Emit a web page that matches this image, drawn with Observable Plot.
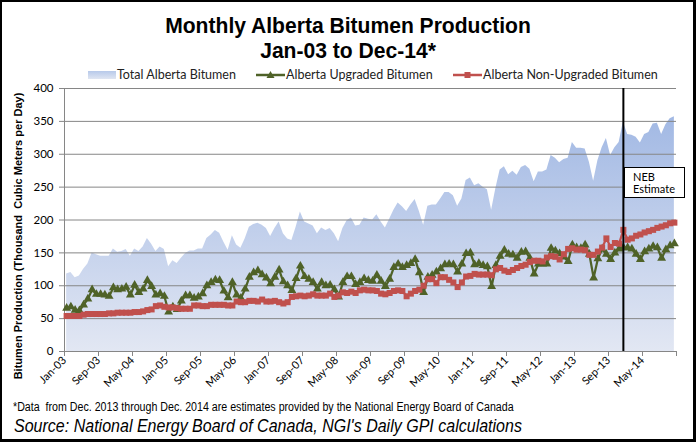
<!DOCTYPE html>
<html><head><meta charset="utf-8">
<script src="https://cdn.jsdelivr.net/npm/d3@7"></script>
<script src="https://cdn.jsdelivr.net/npm/@observablehq/plot@0.6"></script>
<style>
body{margin:0;background:#fff;}
#wrap{position:relative;width:696px;height:442px;overflow:hidden;background:#fff;font-family:Lato,"Open Sans",sans-serif;}
#frame{position:absolute;left:0;top:0;width:696px;height:442px;box-sizing:border-box;border:2px solid #000;border-right-width:3px;border-bottom-width:3px;pointer-events:none;z-index:10}
.title{position:absolute;left:0;width:696px;text-align:center;font-family:"Liberation Sans",Arial,sans-serif;font-weight:bold;font-size:21.5px;line-height:25px;color:#000;transform:scaleX(0.98);transform-origin:center;}
.leg{position:absolute;top:67px;height:16px;font-size:12.5px;line-height:16px;color:#222;white-space:nowrap;}
.leg svg{position:absolute;left:0;top:0;}
#chart{position:absolute;left:0;top:82px;}
#ytitle{position:absolute;width:320px;left:-142px;top:229px;height:14px;line-height:14px;text-align:center;transform:rotate(-90deg);font-family:"Liberation Sans","DejaVu Sans",sans-serif;font-weight:bold;font-size:11px;color:#000;white-space:nowrap;}
#neb{position:absolute;left:624px;top:167px;width:61px;height:31px;box-sizing:border-box;border:1.5px solid #000;background:#fff;color:#000;z-index:5;font-size:11px;}
#neb div{position:absolute;left:8px;height:11px;line-height:11px;white-space:nowrap;}
.narrow{position:absolute;font-family:"Liberation Sans",Arial,sans-serif;color:#000;white-space:nowrap;transform-origin:left center;}
#foot{left:13px;top:400px;font-size:12px;transform:scaleX(0.887);}
#src{left:14px;top:416px;font-style:italic;font-size:18px;transform:scaleX(0.89);}
</style>
</head><body>
<div id="wrap">
  <div class="title" style="top:14px">Monthly Alberta Bitumen Production<br>Jan-03 to Dec-14*</div>
  <div class="leg" style="left:88px;"><svg width="30" height="16"><defs><linearGradient id="lg1" x1="0" y1="0" x2="0" y2="1"><stop offset="0" stop-color="#b7c9ea"/><stop offset="1" stop-color="#dfe5f2"/></linearGradient></defs><rect x="0" y="4" width="28" height="8" fill="url(#lg1)"/></svg><span style="margin-left:29px">Total Alberta Bitumen</span></div>
  <div class="leg" style="left:256px;"><svg width="30" height="16"><line x1="0" y1="8" x2="29" y2="8" stroke="#4f6228" stroke-width="2.5"/><path d="M14.5,4 L18.5,11 L10.5,11 Z" fill="#4f6228"/></svg><span style="margin-left:30px">Alberta Upgraded Bitumen</span></div>
  <div class="leg" style="left:453px;"><svg width="30" height="16"><line x1="0" y1="8" x2="29" y2="8" stroke="#c0504d" stroke-width="2.5"/><rect x="11.5" y="5" width="6" height="6" fill="#c0504d"/></svg><span style="margin-left:30px">Alberta Non-Upgraded Bitumen</span></div>
  <div id="chart"></div>
  <div id="ytitle">Bitumen Production (Thousand&nbsp; Cubic Meters per Day)</div>
  <div id="neb"><div style="top:3px">NEB</div><div style="top:15px">Estimate</div></div>
  <div id="foot" class="narrow">*Data&nbsp; from Dec. 2013 through Dec. 2014 are estimates provided by the National Energy Board of Canada</div>
  <div id="src" class="narrow">Source: National Energy Board of Canada, NGI's Daily GPI calculations</div>
  <div id="frame"></div>
</div>
<script>
// Monthly categories Jan-03 .. Dec-14
const monthNames = ["Jan","Feb","Mar","Apr","May","Jun","Jul","Aug","Sep","Oct","Nov","Dec"];
const months = [];
for (let yr = 3; yr <= 14; yr++) for (const m of monthNames) months.push(m + "-" + String(yr).padStart(2, "0"));

// Total Alberta Bitumen (thousand m3/d)
const total = [
118,120,112,115,125,133,150,147,145,145,145,156,
151,152,155,145,156,152,159,172,163,152,159,155,
129,138,134,142,149,153,153,156,156,172,177,184,
180,166,154,176,162,157,171,189,193,195,192,187,
175,187,197,179,171,169,189,212,197,194,191,179,
188,184,187,179,167,187,199,203,191,192,203,201,
200,208,197,188,201,215,226,220,213,223,231,213,
192,221,223,223,232,242,242,237,221,232,260,264,
252,255,250,246,215,248,276,281,269,274,268,280,
283,277,258,273,273,276,298,294,287,292,294,318,
309,309,308,288,259,290,310,324,298,310,318,349,
330,329,326,317,330,333,346,347,330,345,354,357
];
// Alberta Upgraded Bitumen
const upgraded = [
66,68,63,62,71,80,94,87,87,86,84,97,
94,95,98,86,101,90,95,108,99,86,88,84,
60,68,64,77,85,85,81,83,88,100,105,109,
108,92,82,105,86,81,95,113,120,123,117,112,
103,113,124,106,100,93,111,130,114,110,105,95,
105,100,101,94,83,105,114,114,102,105,111,108,
107,116,107,99,110,128,133,128,131,134,140,120,
90,113,116,121,126,132,133,132,121,133,149,150,
132,134,131,129,99,131,145,154,148,147,142,151,
152,142,118,133,133,133,157,153,149,144,137,162,
158,157,162,148,112,141,156,148,140,150,156,158,
158,156,148,140,152,156,160,158,142,155,161,164
];
// Alberta Non-Upgraded Bitumen
const nonUpgraded = [
54,54,54,54,56,57,57,57,57,57,58,58,
59,59,59,59,60,60,61,63,64,69,70,68,
67,67,66,65,65,65,70,70,69,69,71,71,
71,71,70,70,76,75,75,77,77,76,79,76,
76,77,75,73,75,83,84,85,84,85,87,85,
85,85,88,83,85,90,89,91,89,93,94,93,
93,92,88,87,89,92,93,92,84,88,92,94,
100,110,110,104,113,113,109,105,98,105,114,115,
118,117,117,117,116,125,127,123,121,124,127,130,
132,136,138,138,137,143,145,144,140,148,156,157,
155,155,154,147,147,152,158,172,159,165,164,185,
170,172,176,178,181,183,185,188,190,192,195,196
];
const tickLabels = ["Jan-03","Sep-03","May-04","Jan-05","Sep-05","May-06","Jan-07","Sep-07","May-08","Jan-09","Sep-09","May-10","Jan-11","Sep-11","May-12","Jan-13","Sep-13","May-14"];
const yTicks = [0,50,100,150,200,250,300,350,400];
const estimateStart = "Dec-13";

const rows = months.map((m, i) => ({month: m, i, total: total[i], upgraded: upgraded[i], nonUpgraded: nonUpgraded[i]}));
const tickIdx = d3.range(0, months.length + 1, 8);
const nebIdx = months.indexOf(estimateStart);

const chart = Plot.plot({
  width: 696, height: 320,
  marginLeft: 64, marginRight: 20, marginTop: 6, marginBottom: 51,
  style: {fontFamily: "Lato, 'Open Sans', sans-serif", background: "transparent", color: "#000"},
  x: {domain: [0, months.length], axis: null},
  y: {domain: [0, 400], axis: null},
  marks: [
    Plot.areaY(rows, {x: d => d.i + 0.5, y: "total", fill: "url(#areaGrad)"}),
    Plot.gridY(yTicks.filter(d => d > 0), {stroke: "#868686", strokeOpacity: 1, strokeWidth: 1}),
    Plot.ruleX([0], {stroke: "#868686", strokeWidth: 1}),
    Plot.ruleY([0], {stroke: "#868686", strokeWidth: 1}),
    Plot.axisY(yTicks, {tickSize: 5, tickPadding: 6, fontSize: 11.5, stroke: "#868686", color: "#000", label: null}),
    Plot.axisX(tickIdx, {tickSize: 5, tickPadding: 2, tickRotate: -45, fontSize: 11, stroke: "#868686", color: "#000",
      tickFormat: d => tickLabels[d / 8] ?? "", label: null}),
    Plot.line(rows, {x: d => d.i + 0.5, y: "upgraded", stroke: "#4f6228", strokeWidth: 2.25}),
    Plot.dot(rows, {x: d => d.i + 0.5, y: "upgraded", symbol: "triangle", r: 3.3, fill: "#4f6228", stroke: "none"}),
    Plot.line(rows, {x: d => d.i + 0.5, y: "nonUpgraded", stroke: "#c0504d", strokeWidth: 2.25}),
    Plot.dot(rows, {x: d => d.i + 0.5, y: "nonUpgraded", symbol: "square", r: 3.4, fill: "#c0504d", stroke: "none"}),
    Plot.ruleX([nebIdx + 0.5], {stroke: "#000", strokeWidth: 2})
  ]
});
const ys = chart.scale("y");
const g = d3.select(chart).insert("defs", ":first-child").append("linearGradient")
  .attr("id", "areaGrad").attr("gradientUnits", "userSpaceOnUse")
  .attr("x1", 0).attr("x2", 0).attr("y1", ys.apply(400)).attr("y2", ys.apply(0));
g.append("stop").attr("offset", 0).attr("stop-color", "#9ab3e2");
g.append("stop").attr("offset", 1).attr("stop-color", "#e2e7f3");
document.getElementById("chart").appendChild(chart);
</script>
</body></html>
